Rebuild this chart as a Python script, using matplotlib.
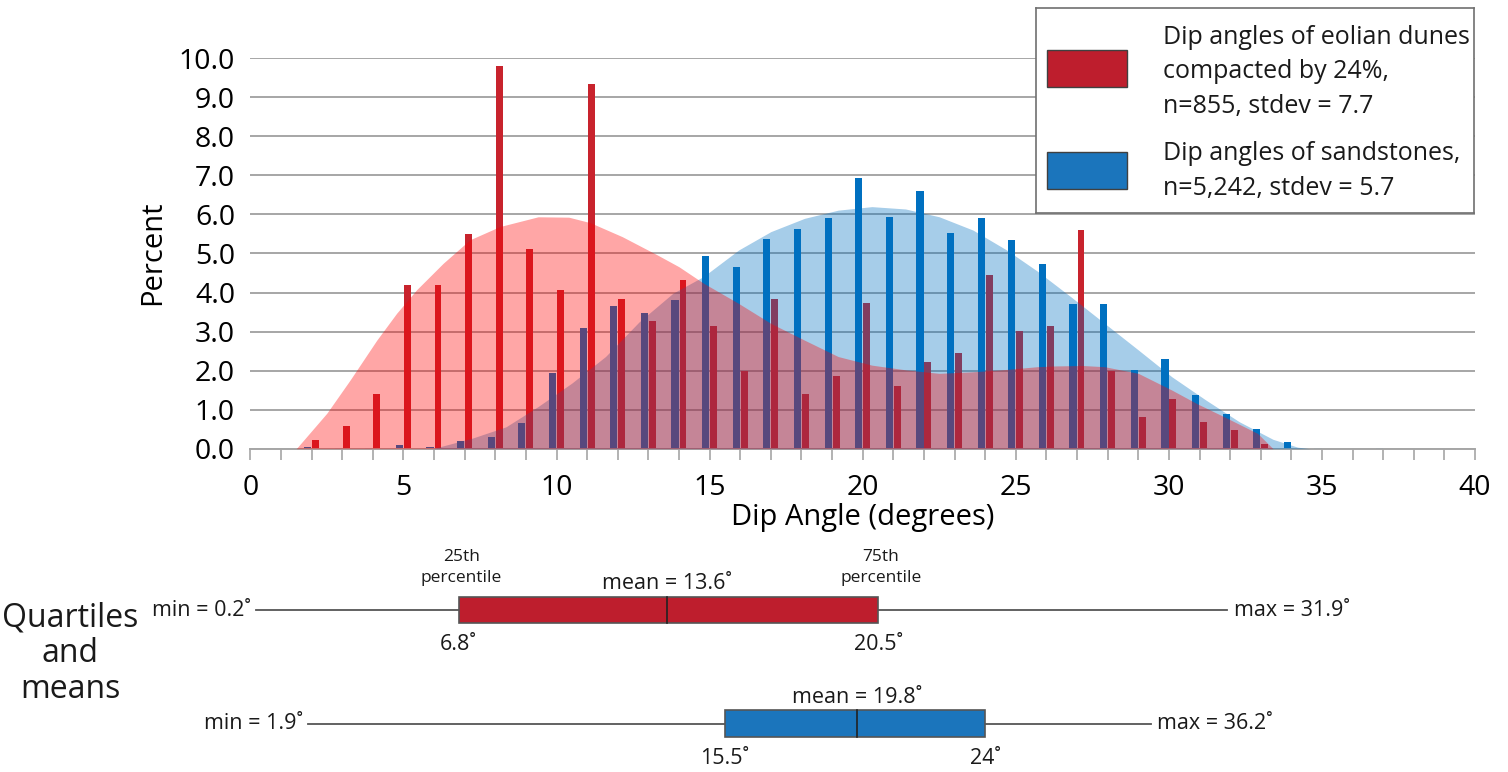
import matplotlib
matplotlib.use("Agg")
import matplotlib.pyplot as plt
from matplotlib.patches import Rectangle
import numpy as np

# ---------------- data ----------------
categories = list(range(1, 38))
eolian_pct = [0, 0.23, 0.58, 1.39, 4.19, 4.19, 5.49, 9.80, 5.12, 4.07,
              9.35, 3.83, 3.27, 4.32, 3.15, 1.99, 3.83, 1.40, 1.86, 3.72,
              1.61, 2.21, 2.46, 4.44, 3.02, 3.14, 5.61, 1.98, 0.80, 1.27,
              0.69, 0.47, 0.11, 0, 0, 0, 0]
sandstone_pct = [0, 0.04, 0.03, 0.03, 0.10, 0.05, 0.20, 0.29, 0.65, 1.95,
                 3.08, 3.65, 3.47, 3.81, 4.94, 4.65, 5.37, 5.64, 5.91, 6.93,
                 5.94, 6.60, 5.52, 5.91, 5.35, 4.74, 3.71, 3.71, 2.02, 2.30,
                 1.37, 0.89, 0.50, 0.16, 0.02, 0, 0.02]

eolian_curve_x = [1.5, 2.5, 3.26, 4.13, 4.78, 5.43, 6.3, 7.17, 8.15, 9.4, 10.4,
                  11.1, 12.15, 13.3, 14.0, 14.8, 15.95, 17.0, 18.1, 19.2, 20.3,
                  21.4, 22.5, 23.6, 24.7, 25.7, 26.3, 27.2, 27.9, 29.0, 30.1,
                  30.9, 31.8, 32.9, 33.4]
eolian_curve_y = [0.0, 0.91, 1.76, 2.78, 3.47, 4.07, 4.75, 5.35, 5.69, 5.94, 5.93,
                  5.79, 5.43, 4.96, 4.66, 4.24, 3.72, 3.21, 2.78, 2.36, 2.14,
                  2.02, 1.93, 1.97, 2.03, 2.10, 2.12, 2.13, 2.10, 1.93, 1.50,
                  1.16, 0.82, 0.39, 0.0]
sandstone_curve_x = [5.95, 7.25, 8.35, 9.4, 10.5, 11.6, 12.7, 13.8, 14.8, 15.95,
                     17.0, 18.1, 19.2, 20.3, 21.4, 22.5, 23.6, 24.7, 25.7, 26.8,
                     27.9, 29.0, 30.1, 31.2, 32.3, 33.4, 34.2, 34.6]
sandstone_curve_y = [0.0, 0.27, 0.56, 1.08, 1.68, 2.36, 3.25, 3.98, 4.41, 5.09,
                     5.56, 5.90, 6.11, 6.20, 6.14, 5.94, 5.60, 5.09, 4.55, 3.89,
                     3.21, 2.53, 1.84, 1.25, 0.69, 0.24, 0.04, 0.0]

# quartile summaries: min, 25th, mean, 75th, max
eolian_stats = [0.2, 6.8, 13.6, 20.5, 31.9]
sandstone_stats = [1.9, 15.5, 19.8, 24.0, 36.2]
# in the source graphic the sandstone upper whisker is drawn only to ~29.4
sandstone_whisker_drawn_max = 29.4

legend_labels = ["Dip angles of eolian dunes\ncompacted by 24%,\nn=855, stdev = 7.7",
                 "Dip angles of sandstones,\nn=5,242, stdev = 5.7"]

# ---------------- style ----------------
MAIN_FONT = ["Open Sans", "DejaVu Sans"]
NARROW_FONT = ["Liberation Sans Narrow", "Open Sans", "DejaVu Sans"]
plt.rcParams["font.family"] = MAIN_FONT

RED_BAR = "#C8232D"
BLUE_BAR = "#0070C0"
RED_BOX = "#BE1E2D"
BLUE_BOX = "#1B75BC"
GRID = "#A6A6A6"

W, H = 1508, 772
fig = plt.figure(figsize=(W / 100, H / 100), dpi=100)


def px_rect(x0, y0, x1, y1):
    """pixel box (top-left origin) -> figure fraction rect"""
    return [x0 / W, 1 - y1 / H, (x1 - x0) / W, (y1 - y0) / H]


# ---------------- main histogram ----------------
ax = fig.add_axes(px_rect(250.3, 57.5, 1475.1, 448.7))
ax.set_xlim(0, 40)
ax.set_ylim(0, 10.02)

cats = np.array(categories)
ax.bar(cats - 0.13, sandstone_pct, width=0.235, color=BLUE_BAR, zorder=2, linewidth=0)
ax.bar(cats + 0.13, eolian_pct, width=0.225, color=RED_BAR, zorder=2, linewidth=0)
ax.fill_between(sandstone_curve_x, sandstone_curve_y, color=BLUE_BAR, alpha=0.35,
                linewidth=0, zorder=3)
ax.fill_between(eolian_curve_x, eolian_curve_y, color="#FF0000", alpha=0.35,
                linewidth=0, zorder=4)

ax.set_yticks(np.arange(0, 11))
ax.set_yticklabels([f"{v:.1f}" for v in np.arange(0, 11)])
ax.yaxis.grid(True, color=GRID, linewidth=1.4)
ax.set_axisbelow(True)
ax.tick_params(axis="y", length=0, pad=11, labelsize=20.5)

ax.set_xticks(np.arange(0, 41, 5))
ax.set_xticks(np.arange(0, 41, 1), minor=True)
ax.tick_params(axis="x", which="both", direction="out", length=8, color=GRID,
               width=1.2, labelsize=20.5, pad=10)
for s in ["top", "right", "left"]:
    ax.spines[s].set_visible(False)
ax.spines["bottom"].set_color(GRID)
ax.spines["bottom"].set_linewidth(1.4)

ax.set_xlabel("Dip Angle (degrees)", fontsize=21)
ax.xaxis.set_label_coords(0.5, -0.14)
ax.set_ylabel("Percent", fontsize=21)
ax.yaxis.set_label_coords(-0.068, 0.5)

# ---------------- legend box ----------------
lax = fig.add_axes(px_rect(1036, 8, 1474, 213), zorder=10)
lax.set_xlim(1036, 1474)
lax.set_ylim(213, 8)
lax.set_xticks([])
lax.set_yticks([])
lax.set_facecolor("white")
for s in lax.spines.values():
    s.set_color("#707070")
    s.set_linewidth(1.2)
lax.add_patch(Rectangle((1047, 50), 80, 37, facecolor=RED_BOX, edgecolor="#404040", lw=1))
lax.add_patch(Rectangle((1047, 152), 80, 37, facecolor=BLUE_BOX, edgecolor="#404040", lw=1))
lax.text(1163, 72, legend_labels[0], fontsize=18, va="center", ha="left",
         linespacing=1.5, color="#1a1a1a")
lax.text(1163, 171, legend_labels[1], fontsize=18, va="center", ha="left",
         linespacing=1.5, color="#1a1a1a")

# ---------------- quartile boxes ----------------
bax = fig.add_axes(px_rect(250.3, 540, 1475.1, 772))
bax.set_xlim(0, 40)
bax.set_ylim(-0.427, 1.617)
bax.axis("off")

BOX_H = 0.232
LBL = 15.5


def draw_box(row, stats, color, whisker_max, show_pct_labels):
    mn, q1, mean, q3, mx = stats
    bax.plot([mn, q1], [row, row], color="#555555", lw=1.3, zorder=1)
    bax.plot([q3, whisker_max], [row, row], color="#555555", lw=1.3, zorder=1)
    bax.add_patch(Rectangle((q1, row - BOX_H / 2), q3 - q1, BOX_H, facecolor=color,
                            edgecolor="#555555", lw=1.2, zorder=2))
    bax.plot([mean, mean], [row - BOX_H / 2, row + BOX_H / 2], color="#222222",
             lw=1.2, zorder=3)
    kw = dict(family=NARROW_FONT, color="#1a1a1a")
    bax.annotate(f"min = {mn:g}˚", (mn, row), xytext=(-4, 0), textcoords="offset points",
                 ha="right", va="center", fontsize=LBL, **kw)
    bax.annotate(f"max = {mx:g}˚", (whisker_max, row), xytext=(5, 0),
                 textcoords="offset points", ha="left", va="center", fontsize=LBL, **kw)
    bax.annotate(f"mean = {mean:g}˚", (mean, row + BOX_H / 2), xytext=(0, 2),
                 textcoords="offset points", ha="center", va="bottom", fontsize=LBL, **kw)
    bax.annotate(f"{q1:g}˚", (q1, row - BOX_H / 2), xytext=(0, -8),
                 textcoords="offset points", ha="center", va="top", fontsize=LBL, **kw)
    bax.annotate(f"{q3:g}˚", (q3, row - BOX_H / 2), xytext=(0, -8),
                 textcoords="offset points", ha="center", va="top", fontsize=LBL, **kw)
    if show_pct_labels:
        bax.annotate("25th\npercentile", (q1, row + BOX_H / 2), xytext=(2, 8),
                     textcoords="offset points", ha="center", va="bottom",
                     fontsize=12.5, linespacing=1.4, **kw)
        bax.annotate("75th\npercentile", (q3, row + BOX_H / 2), xytext=(2, 8),
                     textcoords="offset points", ha="center", va="bottom",
                     fontsize=12.5, linespacing=1.4, **kw)


draw_box(1, eolian_stats, RED_BOX, eolian_stats[4], True)
draw_box(0, sandstone_stats, BLUE_BOX, sandstone_whisker_drawn_max, False)

fig.text(70 / W, 1 - 654 / H, "Quartiles\nand\nmeans", ha="center", va="center",
         fontsize=23, linespacing=1.1, color="#1a1a1a")

fig.savefig("out.png", dpi=100)
